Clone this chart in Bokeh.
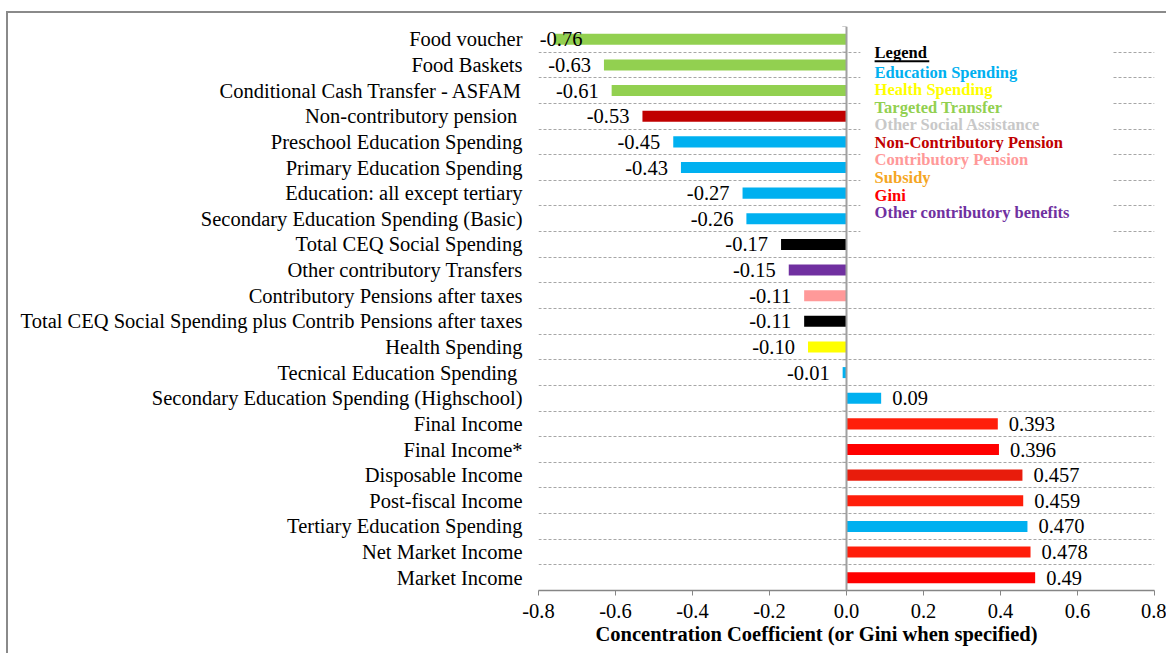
import numpy as np
from bokeh.plotting import figure
from bokeh.models import (ColumnDataSource, FixedTicker, Span, NumeralTickFormatter,
                          LabelSet, Title)
from bokeh.core.properties import value
from bokeh.embed import file_html
from bokeh.resources import INLINE

# Programs / income concepts, listed top to bottom
categories = [
    "Food voucher",
    "Food Baskets",
    "Conditional Cash Transfer - ASFAM",
    "Non-contributory pension ",
    "Preschool Education Spending",
    "Primary Education Spending",
    "Education: all except tertiary",
    "Secondary Education Spending (Basic)",
    "Total CEQ Social Spending",
    "Other contributory Transfers",
    "Contributory Pensions after taxes",
    "Total CEQ Social Spending plus Contrib Pensions after taxes",
    "Health Spending",
    "Tecnical  Education Spending",
    "Secondary Education Spending (Highschool)",
    "Final Income",
    "Final Income*",
    "Disposable Income",
    "Post-fiscal Income",
    "Tertiary Education Spending",
    "Net Market Income",
    "Market Income",
]

coefficients = [
    -0.76, -0.63, -0.61, -0.53, -0.45, -0.43, -0.27, -0.26, -0.17, -0.15,
    -0.11, -0.11, -0.10, -0.01, 0.09, 0.393, 0.396, 0.457, 0.459, 0.470,
    0.478, 0.49,
]

value_labels = [
    "-0.76", "-0.63", "-0.61", "-0.53", "-0.45", "-0.43", "-0.27", "-0.26",
    "-0.17", "-0.15", "-0.11", "-0.11", "-0.10", "-0.01", "0.09", "0.393",
    "0.396", "0.457", "0.459", "0.470", "0.478", "0.49",
]

bar_colors = [
    "#92D050", "#92D050", "#92D050", "#C00000", "#00B0F0", "#00B0F0",
    "#00B0F0", "#00B0F0", "#000000", "#7030A0", "#FF9999", "#000000",
    "#FFFF00", "#00B0F0", "#00B0F0", "#FF1E0A", "#FF0000", "#E81C0C",
    "#FF1E0A", "#00B0F0", "#FF1E0A", "#FF0000",
]

legend_title = "Legend"
legend_names = [
    "Education Spending",
    "Health Spending",
    "Targeted Transfer",
    "Other Social Assistance",
    "Non-Contributory Pension",
    "Contributory Pension",
    "Subsidy",
    "Gini",
    "Other contributory benefits",
]
legend_colors = [
    "#00B0F0", "#FFFF00", "#92D050", "#C8C8C8", "#C00000",
    "#FF9999", "#F5A623", "#FF0000", "#7030A0",
]

x_ticks = [-0.8, -0.6, -0.4, -0.2, 0.0, 0.2, 0.4, 0.6, 0.8]
x_title = "Concentration Coefficient (or Gini when specified)"

SERIF = "Liberation Serif"

n = len(categories)
ypos = [n - 1 - i for i in range(n)]
vals = np.array(coefficients)
neg = vals < 0

src = ColumnDataSource(dict(y=ypos, v=coefficients, color=bar_colors))

idx_neg = [i for i in range(n) if neg[i]]
idx_pos = [i for i in range(n) if not neg[i]]
# negative labels sit left of the bar end; the longest one is pulled inside
src_neg = ColumnDataSource(dict(
    x=[max(coefficients[i], -0.652) for i in idx_neg],
    y=[ypos[i] for i in idx_neg],
    label=[value_labels[i] for i in idx_neg],
))
src_pos = ColumnDataSource(dict(
    x=[coefficients[i] for i in idx_pos],
    y=[ypos[i] for i in idx_pos],
    label=[value_labels[i] for i in idx_pos],
))

p = figure(
    width=1160, height=642,
    x_range=(-0.8, 0.8), y_range=(-0.5, n - 0.5),
    output_backend="svg", toolbar_location=None,
    min_border_left=530, min_border_right=14,
    min_border_top=13, min_border_bottom=65,
)
p.margin = (11, 0, 0, 6)
p.styles = {"border-left": "2px solid #8a8a8a", "border-top": "2px solid #8a8a8a"}
p.outline_line_color = None
p.background_fill_color = "white"
p.border_fill_color = "white"

# horizontal dashed separators between the rows
p.xgrid.visible = False
p.ygrid.ticker = FixedTicker(ticks=[i + 0.5 for i in range(n)])
p.ygrid.grid_line_color = "#a6a6a6"
p.ygrid.grid_line_dash = "3 2"
p.ygrid.grid_line_width = 1

# bars
p.hbar(y="y", left=0, right="v", height=0.43, fill_color="color",
       line_color=None, source=src)

# value labels
lab_style = dict(text_baseline="middle", text_font=value(SERIF),
                 text_font_size="20.5px", text_color="black")
p.add_layout(LabelSet(x="x", y="y", text="label", x_offset=-13,
                      text_align="right", source=src_neg, **lab_style))
p.add_layout(LabelSet(x="x", y="y", text="label", x_offset=11,
                      text_align="left", source=src_pos, **lab_style))

# zero line with small row ticks
p.add_layout(Span(location=0, dimension="height", line_color="#a0a0a0",
                  line_width=2))
bnd = [i + 0.5 for i in range(n)]
p.segment(x0=[-0.011] * len(bnd), x1=[0] * len(bnd), y0=bnd, y1=bnd,
          line_color="#a0a0a0", line_width=1)

# legend panel
p.quad(left=[0.036], right=[0.69], top=[21.1], bottom=[13.2],
       fill_color="white", line_color=None)
leg_x = 0.073
title_y = 20.48
item_y = [19.72 - 0.685 * k for k in range(len(legend_names))]
p.text(x=[leg_x], y=[title_y], text=[legend_title], text_baseline="middle",
       text_font=value(SERIF), text_font_style="bold",
       text_font_size="16.5px", text_color="black")
p.segment(x0=[leg_x], x1=[leg_x + 0.142], y0=[title_y - 0.34],
          y1=[title_y - 0.34], line_color="black", line_width=2)
p.text(x=[leg_x] * len(legend_names), y=item_y, text=legend_names,
       text_color=legend_colors, text_baseline="middle",
       text_font=value(SERIF), text_font_style="bold",
       text_font_size="16.5px")

# y axis: category names only
p.yaxis.ticker = FixedTicker(ticks=ypos)
p.yaxis.major_label_overrides = {y: c for y, c in zip(ypos, categories)}
p.yaxis.axis_line_color = None
p.yaxis.major_tick_line_color = None
p.yaxis.minor_tick_line_color = None
p.yaxis.major_tick_out = 0
p.yaxis.major_label_standoff = 16
p.yaxis.major_label_text_font = SERIF
p.yaxis.major_label_text_font_size = "20.5px"
p.yaxis.major_label_text_color = "black"

# x axis
p.xaxis.ticker = FixedTicker(ticks=x_ticks)
p.xaxis.formatter = NumeralTickFormatter(format="0.0")
p.xaxis.axis_line_color = "#868686"
p.xaxis.axis_line_width = 1.5
p.xaxis.major_tick_line_color = "#868686"
p.xaxis.major_tick_out = 5
p.xaxis.major_tick_in = 0
p.xaxis.minor_tick_line_color = None
p.xaxis.major_label_standoff = 8
p.xaxis.major_label_text_font = SERIF
p.xaxis.major_label_text_font_size = "20.5px"
p.xaxis.major_label_text_color = "black"

# axis title, left-aligned with an inset so it sits left of centre
p.add_layout(Title(text=x_title, align="left", offset=57, standoff=0,
                   text_font=SERIF, text_font_style="bold",
                   text_font_size="20.5px", text_color="black"), "below")

open("out.html", "w").write(file_html(p, INLINE))
